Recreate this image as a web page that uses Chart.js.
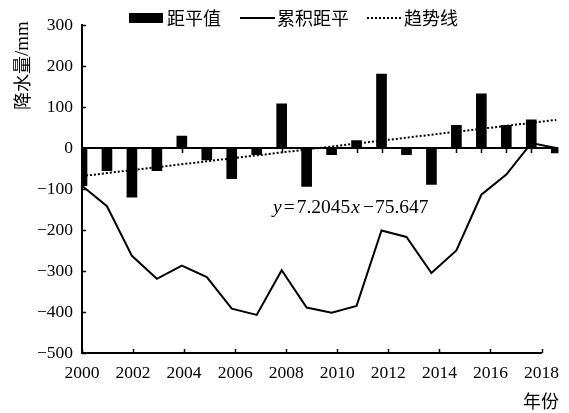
<!DOCTYPE html>
<html>
<head>
<meta charset="utf-8">
<script src="https://cdn.jsdelivr.net/npm/chart.js@4.4.1/dist/chart.umd.min.js"></script>
<style>
  html, body { margin: 0; padding: 0; background: #fff; }
  #wrap { width: 569px; height: 413px; }
</style>
</head>
<body>
<div id="wrap"><canvas id="c" width="569" height="413"></canvas></div>
<script>
// Annual precipitation anomaly, 2000-2019
const years = [2000, 2001, 2002, 2003, 2004, 2005, 2006, 2007, 2008, 2009,
               2010, 2011, 2012, 2013, 2014, 2015, 2016, 2017, 2018, 2019];
const anomaly = [-92, -55, -120, -55, 29, -29, -75, -16, 108, -94,
                 -16, 18, 180, -16, -89, 55, 132, 55, 69, -12];
const cumulative = [-92, -142, -263, -319, -287, -315, -392, -407, -298, -389,
                    -402, -385, -201, -217, -305, -250, -114, -65, 12, 0];
const yearTicks = [2000, 2002, 2004, 2006, 2008, 2010, 2012, 2014, 2016, 2018];
const yTicks = [300, 200, 100, 0, -100, -200, -300, -400, -500];

// Linear trend: y = 7.2045x - 75.647 (x = 1 for the first year)
const trendSlope = 7.2045;
const trendIntercept = -75.647;
const trend = years.map((yr, i) => trendSlope * (i + 1) + trendIntercept);

const SERIF = '"Liberation Serif", "DejaVu Serif", serif';
const CJK = '"Noto Sans CJK SC", "Noto Sans CJK JP", sans-serif';

Chart.defaults.font.family = SERIF;
Chart.defaults.color = '#000';

const dataClip = { left: 0, top: false, right: 17, bottom: false };

const decorations = {
  id: 'decorations',
  afterDatasetsDraw(chart) {
    const { ctx, chartArea: a, scales } = chart;
    const y = scales.y, xd = scales.xd, xb = scales.xb;
    ctx.save();
    ctx.strokeStyle = '#000';
    ctx.fillStyle = '#000';

    // zero line with a tick under every year
    const y0 = y.getPixelForValue(0);
    const xEnd = xd.getPixelForValue(years[years.length - 1]) + 2;
    ctx.lineWidth = 2;
    ctx.beginPath();
    ctx.moveTo(a.left, y0);
    ctx.lineTo(xEnd, y0);
    ctx.stroke();
    ctx.lineWidth = 1.5;
    years.forEach(yr => {
      const px = Math.round(xd.getPixelForValue(yr)) + 0.5;
      ctx.beginPath();
      ctx.moveTo(px, y0);
      ctx.lineTo(px, y0 + 5);
      ctx.stroke();
    });

    // inward tick marks on the value axis
    yTicks.forEach(v => {
      const py = Math.round(y.getPixelForValue(v)) + 0.5;
      ctx.beginPath();
      ctx.moveTo(a.left, py);
      ctx.lineTo(a.left + 4, py);
      ctx.stroke();
    });
    // inward tick marks on the year axis
    yearTicks.forEach(v => {
      const px = Math.round(xb.getPixelForValue(v)) + 0.5;
      ctx.beginPath();
      ctx.moveTo(px, a.bottom);
      ctx.lineTo(px, a.bottom - 4);
      ctx.stroke();
    });
    ctx.restore();
  },
  afterDraw(chart) {
    const { ctx } = chart;
    ctx.save();
    ctx.fillStyle = '#000';
    ctx.strokeStyle = '#000';
    ctx.textBaseline = 'middle';
    ctx.textAlign = 'left';

    // legend
    const ly = 18;
    ctx.fillRect(129, 13, 34, 10);
    ctx.font = '18px ' + CJK;
    ctx.fillText('距平值', 167, ly);
    ctx.lineWidth = 2;
    ctx.beginPath();
    ctx.moveTo(240, ly);
    ctx.lineTo(275, ly);
    ctx.stroke();
    ctx.fillText('累积距平', 277, ly);
    ctx.setLineDash([2, 2]);
    ctx.beginPath();
    ctx.moveTo(367, ly);
    ctx.lineTo(402, ly);
    ctx.stroke();
    ctx.setLineDash([]);
    ctx.fillText('趋势线', 404, ly);

    // value axis title
    ctx.save();
    ctx.translate(22, 110);
    ctx.rotate(-Math.PI / 2);
    ctx.font = '18px ' + CJK;
    ctx.fillText('降水量', 0, 0);
    const w1 = ctx.measureText('降水量').width;
    ctx.font = '19px ' + SERIF;
    ctx.fillText('/mm', w1, 1);
    ctx.restore();

    // year axis title
    ctx.font = '18px ' + CJK;
    ctx.textAlign = 'center';
    ctx.fillText('年份', 541, 401);

    // trend equation
    ctx.textAlign = 'left';
    let x = 273;
    const ey = 208;
    const parts = [
      ['italic ', 'y', 2],
      ['', '=', 2],
      ['', '7.2045', 1],
      ['italic ', 'x', 3],
      ['', '\u2212', 1],
      ['', '75.647', 0]
    ];
    parts.forEach(([style, txt, gap]) => {
      ctx.font = style + '19.5px ' + SERIF;
      ctx.fillText(txt, x, ey);
      x += ctx.measureText(txt).width + gap;
    });
    ctx.restore();
  }
};

new Chart(document.getElementById('c'), {
  data: {
    datasets: [
      {
        type: 'line',
        label: '累积距平',
        data: years.map((yr, i) => ({ x: yr, y: cumulative[i] })),
        xAxisID: 'xd',
        yAxisID: 'y',
        borderColor: '#000',
        borderWidth: 2,
        pointRadius: 0,
        tension: 0,
        fill: false,
        clip: dataClip,
        order: 1
      },
      {
        type: 'line',
        label: '趋势线',
        data: years.map((yr, i) => ({ x: yr, y: trend[i] })),
        xAxisID: 'xd',
        yAxisID: 'y',
        borderColor: '#000',
        borderWidth: 2,
        borderDash: [2, 2],
        pointRadius: 0,
        tension: 0,
        fill: false,
        clip: dataClip,
        order: 2
      },
      {
        type: 'bar',
        label: '距平值',
        data: years.map((yr, i) => ({ x: yr, y: anomaly[i] })),
        xAxisID: 'xd',
        yAxisID: 'y',
        backgroundColor: '#000',
        borderWidth: 0,
        barThickness: 10,
        clip: dataClip,
        order: 3
      }
    ]
  },
  options: {
    responsive: false,
    animation: false,
    devicePixelRatio: 1,
    layout: { padding: { left: 0, right: 23, top: 25, bottom: 0 } },
    plugins: {
      legend: { display: false },
      tooltip: { enabled: false }
    },
    scales: {
      xd: {
        type: 'linear',
        display: false,
        offset: false,
        grid: { offset: false },
        min: 2000,
        max: 2018.41
      },
      xb: {
        type: 'linear',
        position: 'bottom',
        offset: false,
        min: 2000,
        max: 2018,
        afterFit: s => { s.height = 60; },
        afterBuildTicks: s => { s.ticks = yearTicks.map(v => ({ value: v })); },
        ticks: {
          font: { size: 17.5, family: SERIF },
          color: '#000',
          padding: 10,
          maxRotation: 0,
          autoSkip: false,
          callback: v => String(v)
        },
        grid: { display: true, drawOnChartArea: false, drawTicks: false },
        border: { display: true, width: 2, color: '#000' }
      },
      y: {
        type: 'linear',
        position: 'left',
        min: -500,
        max: 300,
        afterFit: s => { s.width = 82; },
        afterBuildTicks: s => { s.ticks = yTicks.map(v => ({ value: v })); },
        ticks: {
          font: { size: 17.5, family: SERIF },
          color: '#000',
          padding: 9,
          callback: v => (v < 0 ? '\u2212' + Math.abs(v) : String(v))
        },
        grid: { display: true, drawOnChartArea: false, drawTicks: false },
        border: { display: true, width: 2, color: '#000' }
      }
    }
  },
  plugins: [decorations]
});
</script>
</body>
</html>
